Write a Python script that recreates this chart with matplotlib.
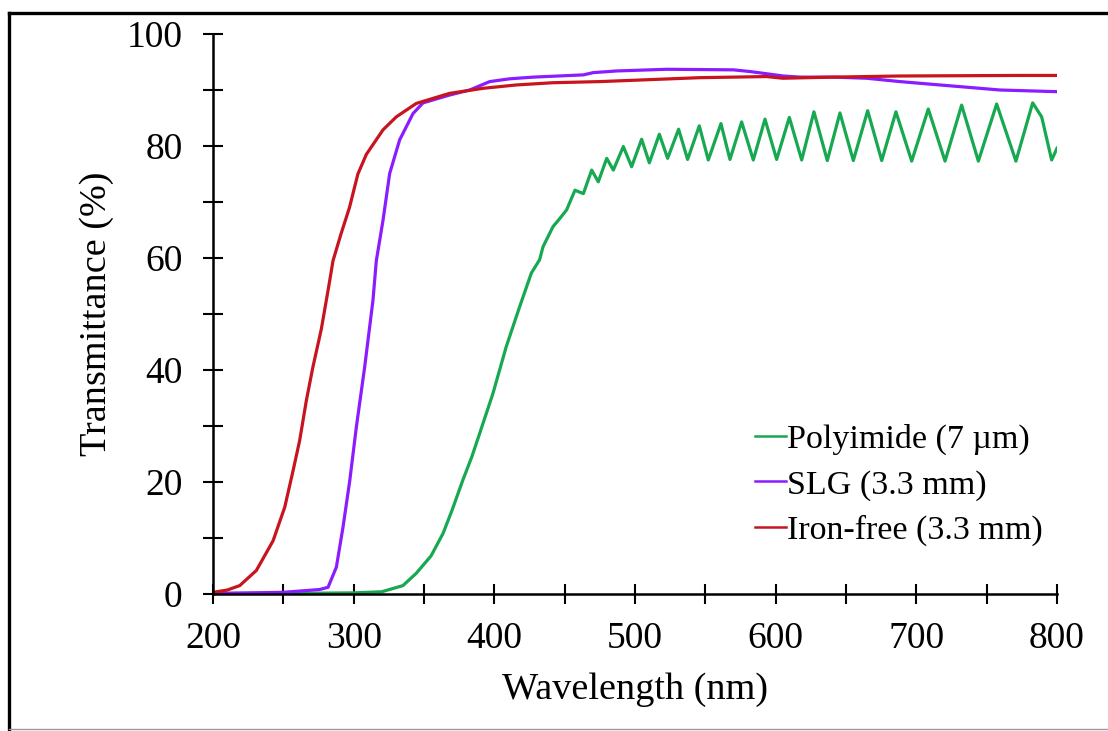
import matplotlib
matplotlib.use("Agg")
import matplotlib.pyplot as plt
from matplotlib.ticker import MultipleLocator
from matplotlib.lines import Line2D

# values
# Polyimide (7 um): rising edge, then interference fringes (peak / trough)
pi_wl = [200, 250, 300, 320, 335, 344.5, 355, 363.5, 370, 377.7, 384, 389.6, 399, 408.5,
         418, 426.3, 432.2, 434.6, 441.7, 446.7, 451.4, 457.3, 463.3, 469.2, 473.9,
         479.9, 484.6, 491.7, 497.6, 504.7, 510.2, 517.3, 523.2, 531, 537.4, 545.7,
         552.1, 561.1, 567.5, 575.8, 584.1, 592.4, 600.7, 609.7, 618.5, 627.2, 636.7,
         645.7, 655.2, 665.4, 675.4, 685.5, 696.7, 708.5, 720.4, 732.2, 744.1, 757.1,
         770.8, 782.7, 789.1, 796.2, 800]
pi_t = [0.1, 0.1, 0.2, 0.4, 1.5, 3.7, 6.8, 10.8, 15.0, 20.4, 24.5, 28.7, 35.8, 44.2,
        51.3, 57.3, 59.7, 62.0, 65.6, 67.1, 68.6, 72.1, 71.5, 75.7, 73.6,
        77.8, 75.7, 79.9, 76.3, 81.2, 77.0, 82.1, 77.8, 83.0, 77.6, 83.6,
        77.5, 84.0, 77.6, 84.3, 77.5, 84.8, 77.6, 85.1, 77.5, 86.1, 77.4,
        85.9, 77.4, 86.3, 77.4, 86.1, 77.3, 86.6, 77.3, 87.3, 77.3, 87.5,
        77.3, 87.7, 85.2, 77.5, 79.6]

# SLG (3.3 mm)
slg_wl = [200, 250, 275.8, 281.8, 287.7, 292.4, 297.2, 301.9, 307.8, 313.7, 316.1,
          320.9, 325.6, 332.7, 342.2, 349.3, 368.2, 382.5, 396.7, 411, 427.7, 463.2,
          470.3, 486.9, 522.5, 569.9, 581.7, 593.6, 605.4, 617.3, 641, 664.7, 688.4,
          712, 735.8, 759.5, 800]
slg_t = [0.1, 0.3, 0.8, 1.2, 4.8, 11.9, 20.2, 29.8, 40.5, 52.4, 59.5,
         66.8, 75.1, 81.1, 85.8, 87.7, 89.1, 90.0, 91.5, 92.0, 92.3, 92.7,
         93.1, 93.4, 93.7, 93.6, 93.3, 92.9, 92.5, 92.3, 92.3, 92.1, 91.5,
         91.0, 90.5, 90.0, 89.7]

# Iron-free (3.3 mm)
fe_wl = [200, 210, 219, 230.8, 242.7, 251, 256.9, 261.6, 266.4, 271, 277, 280.6, 283,
         285.3, 291, 297, 303, 309, 320.9, 330.3, 344.5, 368.2, 392, 415.6, 441.7,
         475, 546, 593.6, 605, 641, 688, 774, 800]
fe_t = [0.3, 0.7, 1.5, 4.2, 9.5, 15.5, 22.0, 27.4, 34.6, 40.5, 47.3, 52.5, 56.0,
        59.5, 64.3, 69.0, 75.0, 78.5, 82.9, 85.2, 87.6, 89.4, 90.3, 90.9, 91.3,
        91.5, 92.2, 92.4, 92.1, 92.3, 92.5, 92.6, 92.6]

labels = ["Polyimide (7 \u00b5m)", "SLG (3.3 mm)", "Iron-free (3.3 mm)"]
colors = ["#17a852", "#8b1cff", "#c8141e"]

plt.rcParams['font.family'] = ['Liberation Serif', 'DejaVu Serif']

fig = plt.figure(figsize=(11.08, 7.31), dpi=100)
ax = fig.add_axes([213 / 1108, 137 / 731, 844 / 1108, 560 / 731])

ax.plot(pi_wl, pi_t, color=colors[0], lw=2.3, label=labels[0], solid_joinstyle='round')
ax.plot(slg_wl, slg_t, color=colors[1], lw=2.3, label=labels[1], solid_joinstyle='round')
ax.plot(fe_wl, fe_t, color=colors[2], lw=2.3, label=labels[2], solid_joinstyle='round')

ax.set_xlim(200, 800)
ax.set_ylim(0, 100)
ax.xaxis.set_major_locator(MultipleLocator(100))
ax.xaxis.set_minor_locator(MultipleLocator(50))
ax.yaxis.set_major_locator(MultipleLocator(20))
ax.yaxis.set_minor_locator(MultipleLocator(10))
for s in ['top', 'right']:
    ax.spines[s].set_visible(False)
for s in ['left', 'bottom']:
    ax.spines[s].set_linewidth(1.8)
ax.tick_params(which='both', direction='inout', length=14, width=1.5, labelsize=27)
ax.tick_params(axis='x', which='major', pad=13)
ax.tick_params(axis='y', which='major', pad=15)

fig.text(635 / 1108, 1 - 690 / 731, "Wavelength (nm)", fontsize=27.5, ha='center', va='center')
fig.text(97 / 1108, 1 - 314 / 731, "Transmittance (%)", fontsize=27.5, rotation=90,
         ha='center', va='center')

leg = ax.legend(loc='upper left', bbox_to_anchor=(755 / 1108, 1 - 424 / 731),
                bbox_transform=fig.transFigure, frameon=False, fontsize=24.5,
                handlelength=0.9, handletextpad=0.05, labelspacing=0.42,
                borderpad=0, borderaxespad=0)
for h in leg.get_lines():
    h.set_linewidth(1.8)

# outer frame of the picture
fig.add_artist(Line2D([8.5 / 1108, 8.5 / 1108], [1 - 729 / 731, 1 - 12.5 / 731],
                      transform=fig.transFigure, color='black', lw=2.4))
fig.add_artist(Line2D([8.5 / 1108, 1], [1 - 12.5 / 731, 1 - 12.5 / 731],
                      transform=fig.transFigure, color='black', lw=2.4))
fig.add_artist(Line2D([8.5 / 1108, 1], [1 - 729 / 731, 1 - 729 / 731],
                      transform=fig.transFigure, color='#999999', lw=1))

fig.savefig("out.png", dpi=100)
